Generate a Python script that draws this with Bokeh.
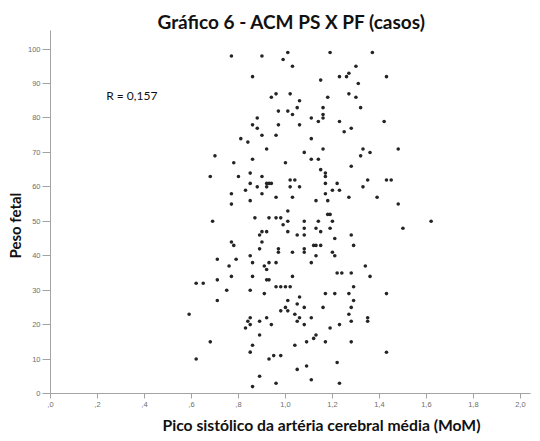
from bokeh.plotting import figure
from bokeh.models import Range1d, FixedTicker, Label, Title
from bokeh.embed import file_html
from bokeh.resources import INLINE

# Pico sistólico da ACM (MoM) e peso fetal (percentil) de cada caso
pico_sistolico = [
    0.77, 0.90, 1.01, 0.99, 1.03, 0.86, 0.94, 0.96, 1.02, 1.06, 1.05, 0.97, 1.01, 1.03, 1.11,
    0.88, 0.86, 0.88, 0.97, 1.06, 0.90, 0.96, 0.81, 0.84, 1.11, 0.92, 1.08, 0.70, 1.11, 0.86,
    0.78, 1.00, 0.68, 0.80, 0.85, 0.90, 1.02, 1.04, 0.85, 0.88, 0.92, 0.93, 0.94, 0.92, 1.02,
    1.06, 0.83, 0.77, 0.90, 0.96, 1.03, 0.77, 0.85, 1.01, 0.87, 0.93, 0.96, 0.98,
    1.19, 1.37, 1.30, 1.23, 1.26, 1.27, 1.43, 1.15, 1.31, 1.27, 1.30, 1.18, 1.16, 1.32, 1.16,
    1.16, 1.14, 1.23, 1.42, 1.25, 1.28, 1.16, 1.33, 1.48, 1.36, 1.32, 1.14, 1.28, 1.15, 1.17,
    1.17, 1.17, 1.22, 1.35, 1.43, 1.45, 1.33, 1.20, 1.23, 1.17, 1.27, 1.39, 1.13, 1.18, 1.48,
    1.18, 1.19,
    0.69, 1.01, 1.08, 0.99, 1.08, 0.90, 0.92, 1.01, 0.89, 1.05, 1.08, 0.90, 0.77, 0.78, 0.89,
    0.97, 0.97, 1.03, 1.08, 1.08, 0.85, 0.71, 0.79, 0.86, 0.93, 0.96, 1.11, 0.76, 0.91, 0.92,
    0.77, 0.86, 1.03, 0.92, 0.93, 0.71, 0.62, 0.65, 0.96, 0.98, 1.00, 1.02, 0.75, 0.85, 0.91,
    1.06, 0.71, 1.01, 1.05, 1.00, 1.08, 0.98, 1.01, 0.59, 1.04, 0.85, 0.92, 1.06, 1.11, 0.84,
    0.89, 1.05, 0.85, 0.94, 1.08, 0.83, 0.89, 0.68, 1.09, 0.86, 1.04, 0.85, 0.93, 0.95, 0.98,
    0.62, 1.09, 1.05, 0.89, 1.11, 0.96, 0.86,
    1.14, 1.20, 1.62, 1.13, 1.15, 1.19, 1.50, 1.28, 1.21, 1.12, 1.13, 1.15, 1.29, 1.20, 1.21,
    1.13, 1.34, 1.22, 1.24, 1.28, 1.36, 1.29, 1.17, 1.21, 1.27, 1.43, 1.29, 1.16, 1.28, 1.27,
    1.35, 1.35, 1.28, 1.23, 1.19, 1.13, 1.12, 1.17, 1.28, 1.43, 1.22, 1.23,
]
peso_fetal = [
    98, 98, 99, 97, 95, 92, 86, 87, 87, 85, 83, 82, 82, 81, 80,
    80, 78, 77, 78, 78, 75, 75, 74, 73, 74, 71, 70, 69, 68, 68,
    67, 67, 63, 63, 64, 63, 62, 62, 61, 60, 61, 61, 61, 60, 60,
    60, 59, 58, 58, 57, 57, 55, 56, 53, 51, 51, 51, 51,
    99, 99, 95, 92, 92, 93, 92, 91, 90, 87, 86, 86, 83, 83, 81,
    80, 79, 79, 79, 76, 77, 71, 71, 71, 70, 69, 68, 66, 65, 64,
    63, 61, 61, 62, 62, 62, 60, 59, 59, 58, 57, 57, 56, 56, 55,
    52, 52,
    50, 50, 50, 49, 48, 47, 47, 47, 46, 46, 46, 44, 44, 43, 42,
    42, 41, 41, 42, 41, 40, 39, 39, 38, 38, 38, 38, 37, 37, 36,
    34, 34, 34, 33, 33, 33, 32, 32, 31, 31, 31, 31, 30, 30, 29,
    28, 27, 27, 26, 25, 25, 24, 24, 23, 23, 22, 22, 22, 22, 21,
    21, 21, 20, 20, 20, 19, 17, 15, 15, 14, 14, 12, 10, 11, 11,
    10, 8, 7, 5, 4, 3, 2,
    50, 50, 50, 48, 47, 48, 48, 46, 45, 43, 43, 43, 43, 41, 40,
    40, 37, 35, 35, 35, 34, 31, 29, 29, 29, 29, 27, 25, 25, 23,
    22, 21, 21, 20, 19, 17, 16, 15, 15, 12, 9, 3,
]

x_ticks = [0.0, 0.2, 0.4, 0.6, 0.8, 1.0, 1.2, 1.4, 1.6, 1.8, 2.0]
x_tick_labels = [",0", ",2", ",4", ",6", ",8", "1,0", "1,2", "1,4", "1,6", "1,8", "2,0"]
y_ticks = [0, 10, 20, 30, 40, 50, 60, 70, 80, 90, 100]

titulo = "Gráfico 6 - ACM PS X PF (casos)"
rotulo_x = "Pico sistólico da artéria cerebral média (MoM)"
rotulo_y = "Peso fetal"
correlacao = "R = 0,157"

AXIS_GRAY = "#a3a3a3"
TICK_TEXT = "#6e6e6e"
INK = "#111111"

p = figure(
    width=540, height=441,
    x_range=Range1d(0, 2.043), y_range=Range1d(0, 105.4),
    output_backend="svg", toolbar_location=None,
    min_border_left=50, min_border_right=10,
    min_border_top=30, min_border_bottom=48,
)
p.background_fill_color = "white"
p.border_fill_color = "white"
p.outline_line_color = None
p.grid.visible = False

# chart title (left-aligned with an offset so the offset is honoured)
p.title.text = titulo
p.title.text_font = "Lato"
p.title.text_font_style = "bold"
p.title.text_font_size = "19px"
p.title.text_color = INK
p.title.align = "left"
p.title.offset = 107
p.title.standoff = -5

# axes
for ax in (p.xaxis[0], p.yaxis[0]):
    ax.axis_line_color = AXIS_GRAY
    ax.major_tick_line_color = AXIS_GRAY
    ax.minor_tick_line_color = None
    ax.major_tick_in = 0
    ax.major_label_text_font = "Liberation Sans"
    ax.major_label_text_font_size = "7.5px"
    ax.major_label_text_color = TICK_TEXT

p.xaxis.ticker = FixedTicker(ticks=x_ticks)
p.xaxis.major_label_overrides = dict(zip(x_ticks, x_tick_labels))
p.xaxis.major_tick_out = 5
p.xaxis.major_label_standoff = 3

p.yaxis.ticker = FixedTicker(ticks=y_ticks)
p.yaxis.major_tick_out = 8
p.yaxis.major_label_standoff = 2

# axis titles
p.add_layout(Title(text=rotulo_x, align="left", offset=112, standoff=8,
                   text_font="Lato", text_font_style="bold",
                   text_font_size="15.7px", text_color=INK), "below")
p.add_layout(Title(text=rotulo_y, align="left", offset=135, standoff=2,
                   text_font="Lato", text_font_style="bold",
                   text_font_size="15px", text_color=INK), "left")

# data points
p.scatter(pico_sistolico, peso_fetal, size=3.6, marker="circle",
          fill_color="#242424", line_color=None)

p.add_layout(Label(x=0.237, y=86.6, text=correlacao, text_font="Lato",
                   text_font_size="12px", text_color=INK,
                   text_baseline="middle", text_align="left"))

open("out.html", "w").write(file_html(p, INLINE))
